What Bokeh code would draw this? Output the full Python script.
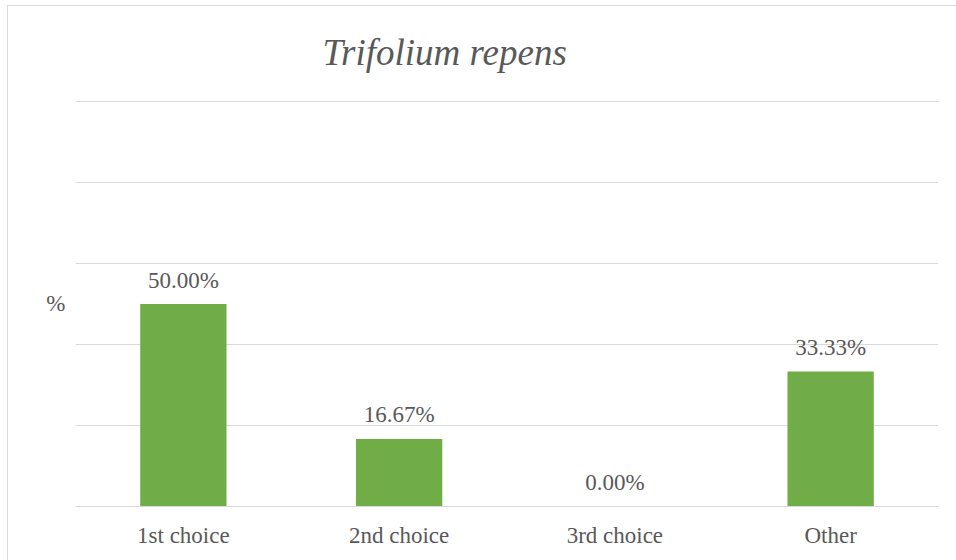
from bokeh.plotting import figure
from bokeh.models import ColumnDataSource, FixedTicker, FactorRange, Range1d
from bokeh.core.properties import value
from bokeh.embed import file_html
from bokeh.resources import INLINE

categories = ["1st choice", "2nd choice", "3rd choice", "Other"]
percent = [50.00, 16.67, 0.00, 33.33]
labels = ["50.00%", "16.67%", "0.00%", "33.33%"]
grid_ticks = [0, 20, 40, 60, 80, 100]
title_text = "Trifolium repens"
y_label = "%"

FONT = "Liberation Serif"
TITLE_FONT = "Liberation Serif"
TXT = "#595959"
GRID = "#d9d9d9"
BAR = "#70ad47"

src = ColumnDataSource(dict(cat=categories, val=percent, lab=labels))

p = figure(width=956, height=560, x_range=FactorRange(*categories, range_padding=0),
           y_range=Range1d(0, 100.25), output_backend="svg", toolbar_location=None,
           min_border_left=75, min_border_right=18, min_border_top=100, min_border_bottom=54,
           title=title_text)
line = "linear-gradient(#d9d9d9, #d9d9d9)"
p.styles = {"background": f"{line} 7px 5px / 1px 100% no-repeat, {line} 7px 5px / 100% 1px no-repeat, white"}
p.outline_line_color = None
p.background_fill_color = "white"
p.border_fill_color = None

p.title.align = "left"
p.title.offset = 247
p.title.standoff = 56
p.title.text_font = TITLE_FONT
p.title.text_font_size = "37px"
p.title.text_font_style = "italic"
p.title.text_color = TXT

p.vbar(x="cat", top="val", width=0.4, source=src, color=BAR, line_color=None)
p.text(x="cat", y="val", text="lab", source=src, text_align="center",
       text_baseline="alphabetic", y_offset=-24, text_font=value(FONT),
       text_font_size="23px", text_color=TXT)

p.xgrid.grid_line_color = None
p.ygrid.ticker = FixedTicker(ticks=grid_ticks)
p.ygrid.grid_line_color = GRID
p.ygrid.grid_line_width = 1

ya = p.yaxis[0]
ya.ticker = FixedTicker(ticks=[])
ya.axis_line_color = None
ya.major_tick_line_color = None
ya.minor_tick_line_color = None
ya.major_tick_out = 0
ya.major_tick_in = 0
ya.major_label_standoff = 0
ya.axis_label = y_label
ya.axis_label_standoff = 10
ya.axis_label_text_font = FONT
ya.axis_label_text_font_size = "23px"
ya.axis_label_text_font_style = "normal"
ya.axis_label_text_color = TXT
if "axis_label_orientation" in ya.properties():
    ya.axis_label_orientation = "horizontal"

xa = p.xaxis[0]
xa.axis_line_color = GRID
xa.major_tick_line_color = None
xa.minor_tick_line_color = None
xa.major_tick_out = 0
xa.major_label_standoff = 16
xa.major_label_text_font = FONT
xa.major_label_text_font_size = "23px"
xa.major_label_text_color = TXT

open("out.html", "w").write(file_html(p, INLINE))
